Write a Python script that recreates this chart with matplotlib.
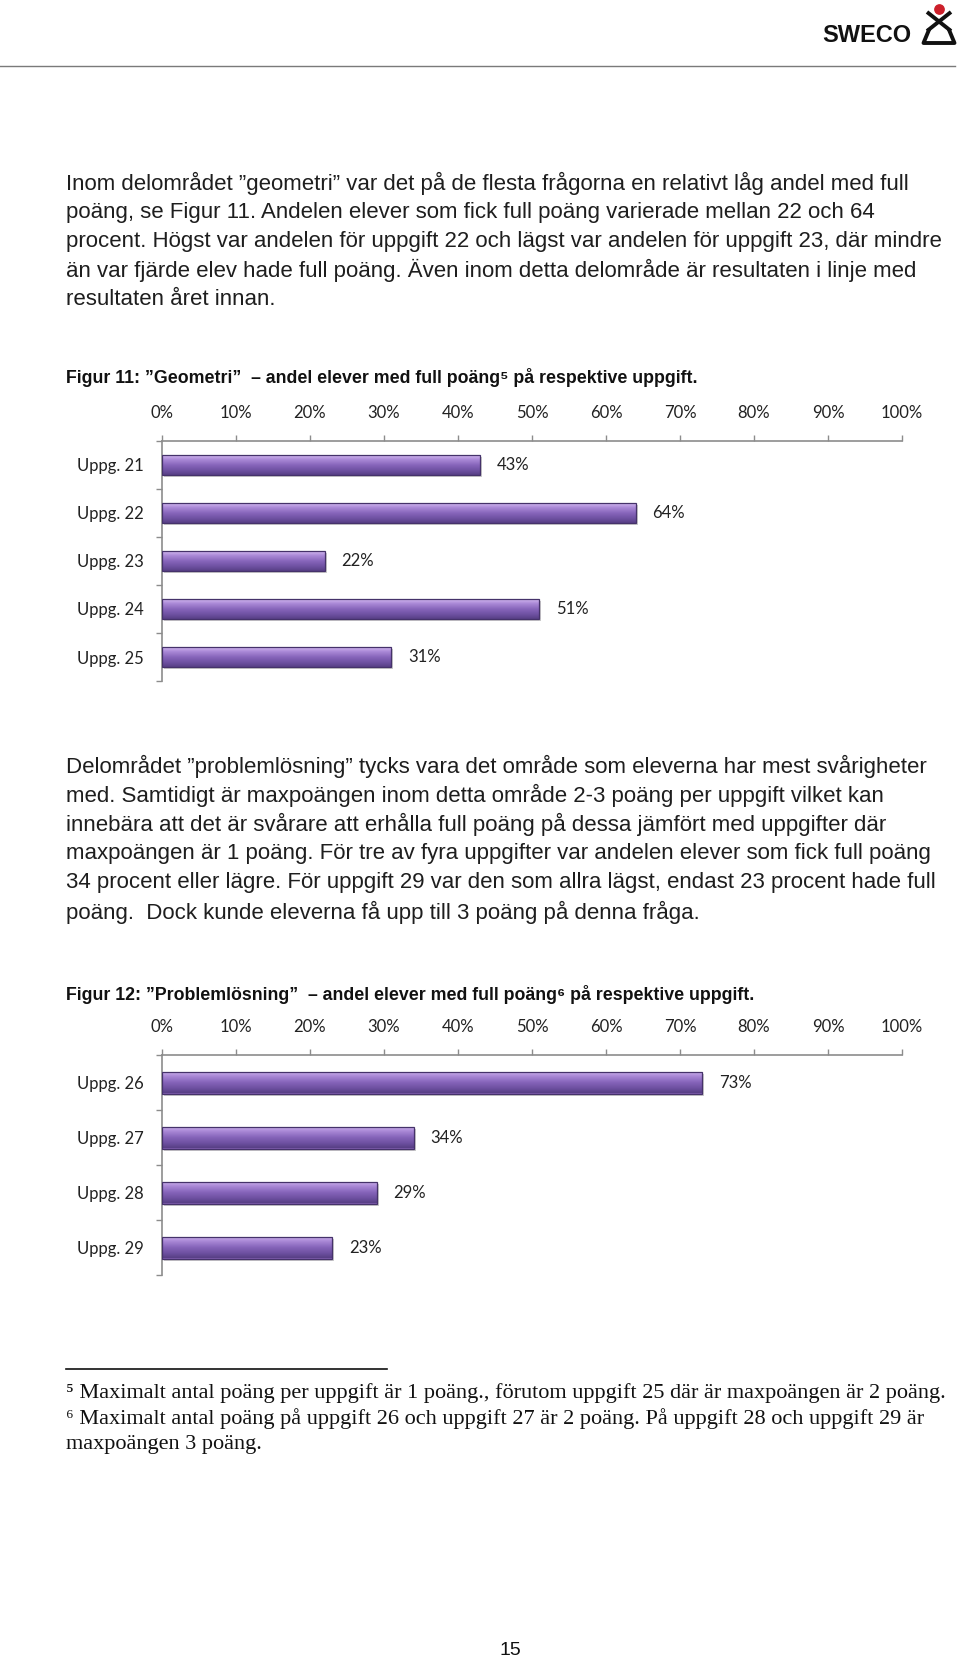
import numpy as np
import matplotlib
matplotlib.use("Agg")
import matplotlib.pyplot as plt
import matplotlib.patheffects as pe
from matplotlib.colors import LinearSegmentedColormap

W, H = 960, 1667

# data
geo_labels = ["Uppg. 21", "Uppg. 22", "Uppg. 23", "Uppg. 24", "Uppg. 25"]
geo_values = [43, 64, 22, 51, 31]
prob_labels = ["Uppg. 26", "Uppg. 27", "Uppg. 28", "Uppg. 29"]
prob_values = [73, 34, 29, 23]
tick_vals = list(range(0, 101, 10))

para1 = [
    "Inom delområdet \u201dgeometri\u201d var det på de flesta frågorna en relativt låg andel med full",
    "poäng, se Figur 11. Andelen elever som fick full poäng varierade mellan 22 och 64",
    "procent. Högst var andelen för uppgift 22 och lägst var andelen för uppgift 23, där mindre",
    "än var fjärde elev hade full poäng. Även inom detta delområde är resultaten i linje med",
    "resultaten året innan.",
]
para2 = [
    "Delområdet \u201dproblemlösning\u201d tycks vara det område som eleverna har mest svårigheter",
    "med. Samtidigt är maxpoängen inom detta område 2-3 poäng per uppgift vilket kan",
    "innebära att det är svårare att erhålla full poäng på dessa jämfört med uppgifter där",
    "maxpoängen är 1 poäng. För tre av fyra uppgifter var andelen elever som fick full poäng",
    "34 procent eller lägre. För uppgift 29 var den som allra lägst, endast 23 procent hade full",
    "poäng.  Dock kunde eleverna få upp till 3 poäng på denna fråga.",
]
cap1 = "Figur 11: \u201dGeometri\u201d  \u2013 andel elever med full poäng\u2075 på respektive uppgift."
cap2 = "Figur 12: \u201dProblemlösning\u201d  \u2013 andel elever med full poäng\u2076 på respektive uppgift."
notes = [
    "\u2075 Maximalt antal poäng per uppgift är 1 poäng., förutom uppgift 25 där är maxpoängen är 2 poäng.",
    "\u2076 Maximalt antal poäng på uppgift 26 och uppgift 27 är 2 poäng. På uppgift 28 och uppgift 29 är",
    "maxpoängen 3 poäng.",
]

body_font = ["Liberation Sans", "DejaVu Sans"]
chart_font = ["Lato", "DejaVu Sans"]
serif_font = ["Liberation Serif", "DejaVu Serif"]
grey = "#8c8c8c"

bar_cmap = LinearSegmentedColormap.from_list(
    "bar", [(0, "#d3b9f0"), (0.2, "#ad8cd9"), (0.5, "#8765bb"), (0.8, "#6c4f9f"), (1, "#573f85")])
grad = np.linspace(0, 1, 64).reshape(-1, 1)

fig = plt.figure(figsize=(W / 100, H / 100), dpi=100)
bg = fig.add_axes([0, 0, 1, 1])
bg.set_xlim(0, W)
bg.set_ylim(H, 0)
bg.axis("off")


def px_axes(x0, y0, x1, y1):
    return fig.add_axes([x0 / W, 1 - y1 / H, (x1 - x0) / W, (y1 - y0) / H])


def draw_chart(ax, labels, values):
    n = len(values)
    y = np.arange(n)
    frac = np.array(values) / 100
    bars = ax.barh(y, frac, height=0.4, color="#7a5aaa", edgecolor="none", zorder=2)
    for b in bars:
        b.set_path_effects([pe.SimplePatchShadow(offset=(1.5, -1.5), shadow_rgbFace="#999999", alpha=0.5),
                            pe.Normal()])
        x0, y0 = b.get_x(), b.get_y()
        w, h = b.get_width(), b.get_height()
        im = ax.imshow(grad, cmap=bar_cmap, aspect="auto", origin="upper",
                       extent=(x0, x0 + w, y0 + h, y0), zorder=3, interpolation="bicubic")
        im.set_clip_path(b)
    ax.barh(y, frac, height=0.4, color="none", edgecolor="#45326a", linewidth=0.9, zorder=4)
    for i, f in enumerate(frac):
        ax.annotate(f"{values[i]}%", (f, i), xytext=(12, 0), textcoords="offset points",
                    va="center", ha="left", fontsize=12, family=chart_font, color="#222222")

    ax.set_xlim(0, 1)
    ax.set_ylim(n - 0.5, -0.5)
    ax.set_facecolor("none")
    ax.xaxis.tick_top()
    ax.set_xticks(np.array(tick_vals) / 100)
    ax.set_xticklabels([f"{t}%" for t in tick_vals], family=chart_font, fontsize=12, color="#222222")
    ax.set_yticks(y)
    ax.set_yticklabels(labels, family=chart_font, fontsize=12, color="#222222")
    ax.set_yticks(np.arange(n + 1) - 0.5, minor=True)
    ax.tick_params(axis="y", which="major", length=0, pad=13)
    ax.tick_params(axis="y", which="minor", length=4, color=grey, width=1, direction="out")
    ax.tick_params(axis="x", top=True, bottom=False, labeltop=True, labelbottom=False,
                   length=4.5, color=grey, width=1, pad=10)
    for s in ["right", "bottom"]:
        ax.spines[s].set_visible(False)
    for s in ["top", "left"]:
        ax.spines[s].set_color(grey)
        ax.spines[s].set_linewidth(1.2)


# header
bg.plot([0, 955], [66, 66], color="#7a7a7a", lw=1)
bg.text(822, 35, "SWECO", ha="left", va="center", fontsize=17, fontweight="bold",
        family=body_font, color="#111111")
bg.plot([927, 951], [12, 31], color="#111111", lw=2.8, solid_capstyle="butt")
bg.plot([951, 927], [12, 31], color="#111111", lw=2.8, solid_capstyle="butt")
bg.plot([928.5, 923.5, 954.5, 949.5], [31, 43, 43, 31], color="#111111", lw=2.8)
bg.scatter([939], [9], s=45, color="#cc1f2a", zorder=5)

# paragraph 1
for k, line in enumerate(para1):
    bg.text(66, 183 + 29.1 * k, line, fontsize=16, va="center", ha="left", family=body_font, color="#1e1e1e")
bg.text(66, 377, cap1, fontsize=12.8, fontweight="bold", va="center", family=body_font, color="#111111")

ax1 = px_axes(162, 441, 902, 681)
draw_chart(ax1, geo_labels, geo_values)

# paragraph 2
for k, line in enumerate(para2):
    bg.text(66, 766 + 29.2 * k, line, fontsize=16, va="center", ha="left", family=body_font, color="#1e1e1e")
bg.text(66, 994, cap2, fontsize=12.8, fontweight="bold", va="center", family=body_font, color="#111111")

ax2 = px_axes(162, 1055, 902, 1275)
draw_chart(ax2, prob_labels, prob_values)

# footnotes
bg.plot([66, 387], [1369, 1369], color="#111111", lw=1.2)
for k, line in enumerate(notes):
    bg.text(66, 1393 + 25.5 * k, line, fontsize=16, va="center", ha="left", family=serif_font, color="#111111")

bg.text(510, 1650, "15", ha="center", va="center", fontsize=14, family=body_font, color="#111111")

fig.savefig("out.png", dpi=100, facecolor="white")
